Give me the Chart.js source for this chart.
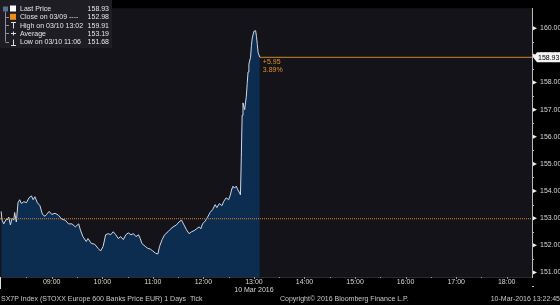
<!DOCTYPE html>
<html>
<head>
<meta charset="utf-8">
<script src="https://cdn.jsdelivr.net/npm/chart.js@4.4.1/dist/chart.umd.min.js"></script>
<style>
  html, body { margin: 0; padding: 0; background: #000; }
  #wrap { width: 560px; height: 305px; position: relative; }
</style>
</head>
<body>
<div id="wrap"><canvas id="chart" width="560" height="305"></canvas></div>
<script>
// SX7P intraday ticks, 10 Mar 2016
const times = [
  '08:00','08:01','08:03','08:06','08:07','08:09','08:11','08:13','08:15','08:16','08:18','08:20','08:22','08:24','08:27',
  '08:30','08:33','08:36','08:38','08:40','08:43','08:46','08:49','08:52','08:54','08:57','09:00','09:04','09:08','09:12',
  '09:16','09:20','09:24','09:28','09:32','09:34','09:37','09:41','09:43','09:47','09:51','09:55','09:58','10:01','10:04',
  '10:07','10:10','10:13','10:16','10:19','10:22','10:25','10:28','10:31','10:34','10:37','10:40','10:43','10:45','10:47',
  '10:51','10:54','10:57','11:00','11:03','11:06','11:08','11:11','11:14','11:18','11:20','11:24','11:28','11:31','11:34',
  '11:37','11:40','11:43','11:46','11:49','11:52','11:55','11:57','11:59','12:02','12:05','12:08','12:11','12:14','12:16',
  '12:19','12:22','12:24','12:27','12:30','12:32','12:34','12:35','12:37','12:39','12:41','12:43','12:44','12:45','12:46',
  '12:47','12:49','12:51','12:52','12:53','12:54','12:56','12:57','12:58','13:00','13:02','13:03','13:04','13:05','13:07'
];
const prices = [
  153.25,152.93,152.79,152.96,152.93,153.04,152.75,153.00,152.93,153.21,152.86,153.57,153.68,153.54,153.61,
  153.57,153.75,153.82,153.68,153.79,153.57,153.46,153.14,153.07,153.14,153.25,153.14,153.18,153.11,152.96,
  152.93,152.79,152.79,152.68,152.79,152.57,152.32,152.14,152.25,152.07,152.04,151.89,151.79,151.96,152.39,
  152.43,152.39,152.50,152.39,152.25,152.32,152.21,152.39,152.46,152.39,152.43,152.32,152.39,152.25,152.07,
  151.96,151.89,151.86,151.79,151.71,151.68,151.96,152.21,152.39,152.50,152.57,152.68,152.75,152.86,152.93,
  152.75,152.57,152.43,152.50,152.54,152.61,152.68,152.61,152.79,152.89,153.04,153.21,153.32,153.50,153.39,
  153.54,153.46,153.61,153.75,153.68,153.86,154.11,154.18,154.11,154.18,154.04,153.93,153.86,155.25,156.79,
  157.25,157.00,157.50,157.96,158.39,158.68,158.93,159.36,159.64,159.89,159.91,159.70,159.40,159.10,158.93
];
const closePrev = 152.98;
const lastPrice = 158.93;
const xTickHours = [9, 10, 11, 12, 13, 14, 15, 16, 17, 18];
const yTicks = [151, 152, 153, 154, 155, 156, 157, 158, 159, 160];
const legendLabels = ['Last Price', 'Close on 03/09 ----', 'High on 03/10 13:02', 'Average', 'Low on 03/10 11:06'];
const legendValues = ['158.93', '152.98', '159.91', '153.19', '151.68'];
const changeLabels = ['+5.95', '3.89%'];
const dateLabel = '10 Mar 2016';
const footer = ['SX7P Index (STOXX Europe 600 Banks Price EUR) 1 Days  Tick',
                'Copyright\u00A9 2016 Bloomberg Finance L.P.',
                '10-Mar-2016 13:22:45'];

const X_MIN = 7.977, X_MAX = 18.5;
const FONT = '"Liberation Sans", Arial, sans-serif';
const ORANGE = '#e0902a';

function toHours(t) {
  const [h, m] = t.split(':').map(Number);
  return h + m / 60;
}
const points = times.map((t, i) => ({ x: toHours(t), y: prices[i] }));
const lastX = points[points.length - 1].x;

Chart.defaults.font.family = FONT;
Chart.defaults.font.size = 7;
Chart.defaults.color = '#d8d8d8';

const background = {
  id: 'background',
  beforeDraw(chart) {
    const { ctx, chartArea: a } = chart;
    ctx.save();
    ctx.fillStyle = '#000';
    ctx.fillRect(0, 0, chart.width, chart.height);
    ctx.fillStyle = '#141319';
    ctx.fillRect(a.left, a.top, a.right - a.left, a.bottom - a.top);
    ctx.restore();
  }
};

const decorations = {
  id: 'decorations',
  afterDraw(chart) {
    const { ctx, chartArea: a } = chart;
    const xs = chart.scales.x, ys = chart.scales.y;
    ctx.save();

    // minor ticks on the right axis + arrow heads on majors
    ctx.strokeStyle = '#bbb';
    ctx.lineWidth = 1;
    yTicks.forEach(v => {
      const y = Math.round(ys.getPixelForValue(v - 0.5)) + 0.5;
      ctx.beginPath(); ctx.moveTo(a.right, y); ctx.lineTo(a.right + 2, y); ctx.stroke();
    });
    ctx.fillStyle = '#eee';
    yTicks.forEach(v => {
      const y = ys.getPixelForValue(v);
      ctx.beginPath(); ctx.moveTo(a.right + 1, y - 2); ctx.lineTo(a.right + 5, y); ctx.lineTo(a.right + 1, y + 2); ctx.fill();
    });
    // x ticks
    ctx.strokeStyle = '#999';
    xTickHours.forEach(h => {
      [h, h - 0.5].forEach((v, k) => {
        const x = Math.round(xs.getPixelForValue(v)) + 0.5;
        ctx.beginPath(); ctx.moveTo(x, a.bottom); ctx.lineTo(x, a.bottom + (k ? 1 : 2)); ctx.stroke();
      });
    });
    ctx.strokeStyle = '#ddd';
    ctx.beginPath(); ctx.moveTo(0.5, a.bottom); ctx.lineTo(0.5, a.bottom + 12); ctx.stroke();

    // last price marker on the axis
    const yl = ys.getPixelForValue(lastPrice);
    ctx.fillStyle = '#f4f4f4';
    ctx.beginPath();
    ctx.moveTo(a.right + 1, yl);
    ctx.lineTo(a.right + 5, yl - 5);
    ctx.lineTo(560, yl - 5);
    ctx.lineTo(560, yl + 5);
    ctx.lineTo(a.right + 5, yl + 5);
    ctx.closePath();
    ctx.fill();
    ctx.fillStyle = '#000';
    ctx.font = '7px ' + FONT;
    ctx.textBaseline = 'middle';
    ctx.textAlign = 'left';
    ctx.fillText(lastPrice.toFixed(2), a.right + 6, yl + 0.5);

    // change labels
    ctx.fillStyle = ORANGE;
    const xc = xs.getPixelForValue(lastX) + 3;
    ctx.fillText(changeLabels[0], xc, yl + 5);
    ctx.fillText(changeLabels[1], xc, yl + 13);

    // date under the 13:00 tick
    ctx.fillStyle = '#d8d8d8';
    ctx.textAlign = 'center';
    ctx.fillText(dateLabel, xs.getPixelForValue(13), 290);

    // footer
    ctx.fillStyle = '#c8c8c8';
    ctx.textAlign = 'left';
    ctx.fillText(footer[0], 1, 299);
    ctx.fillText(footer[1], 280, 299);
    ctx.textAlign = 'right';
    ctx.fillText(footer[2], 560, 299);

    // legend box
    ctx.fillStyle = '#1d1d23';
    ctx.fillRect(0, 0, 112, 48);
    const rowY = legendLabels.map((_, i) => 8.5 + i * 8.3);
    ctx.strokeStyle = '#8a8f99';
    ctx.beginPath();
    ctx.moveTo(5.5, rowY[0] + 3); ctx.lineTo(5.5, rowY[4]);
    rowY.slice(1).forEach(y => { ctx.moveTo(5.5, Math.round(y) + 0.5); ctx.lineTo(9, Math.round(y) + 0.5); });
    ctx.stroke();
    ctx.fillStyle = '#5b6f8f';
    ctx.fillRect(3, rowY[0] - 2, 5, 5);
    ctx.fillStyle = '#fff';
    ctx.fillRect(10, rowY[0] - 3, 6, 6);
    ctx.fillStyle = '#f08c1a';
    ctx.fillRect(10, rowY[1] - 3, 6, 6);
    ctx.strokeStyle = '#ddd';
    const ih = Math.round(rowY[2]) + 0.5, ia = Math.round(rowY[3]) + 0.5, il = Math.round(rowY[4]) + 0.5;
    ctx.beginPath();
    ctx.moveTo(11, ih - 3); ctx.lineTo(16, ih - 3); ctx.moveTo(13.5, ih - 3); ctx.lineTo(13.5, ih + 3);
    ctx.moveTo(11, ia); ctx.lineTo(16, ia); ctx.moveTo(13.5, ia - 2); ctx.lineTo(13.5, ia + 2);
    ctx.moveTo(11, il + 3); ctx.lineTo(16, il + 3); ctx.moveTo(13.5, il - 3); ctx.lineTo(13.5, il + 3);
    ctx.stroke();
    ctx.font = '7px ' + FONT;
    ctx.fillStyle = '#e6e6e6';
    legendLabels.forEach((t, i) => {
      ctx.textAlign = 'left';
      ctx.fillText(t, 20, rowY[i] + 0.5);
      ctx.textAlign = 'right';
      ctx.fillText(legendValues[i], 109, rowY[i] + 0.5);
    });
    ctx.restore();
  }
};

new Chart(document.getElementById('chart'), {
  type: 'line',
  data: {
    datasets: [
      {
        data: points,
        borderColor: '#cfd8e4',
        borderWidth: 1,
        backgroundColor: '#0c2c50',
        fill: 'start',
        pointRadius: 0,
        tension: 0,
        order: 3
      },
      {
        data: [{ x: X_MIN, y: closePrev }, { x: X_MAX, y: closePrev }],
        borderColor: '#d9882a',
        borderWidth: 1,
        borderDash: [1, 1],
        pointRadius: 0,
        fill: false,
        order: 1
      },
      {
        data: [{ x: lastX, y: lastPrice }, { x: X_MAX, y: lastPrice }],
        borderColor: '#c98a2a',
        borderWidth: 1,
        pointRadius: 0,
        fill: false,
        order: 1
      }
    ]
  },
  options: {
    responsive: false,
    animation: false,
    devicePixelRatio: 1,
    layout: { padding: 0 },
    plugins: { legend: { display: false }, tooltip: { enabled: false } },
    scales: {
      x: {
        type: 'linear',
        min: X_MIN,
        max: X_MAX,
        afterBuildTicks: s => { s.ticks = xTickHours.map(v => ({ value: v })); },
        afterFit: s => { s.height = 28; },
        ticks: {
          autoSkip: false,
          maxRotation: 0,
          padding: 1,
          color: '#d8d8d8',
          callback: v => String(v).padStart(2, '0') + ':00'
        },
        grid: { drawOnChartArea: false, drawTicks: false },
        border: { display: true, color: '#2a2a30' }
      },
      y: {
        position: 'right',
        min: 150.832,
        max: 160.74,
        afterBuildTicks: s => { s.ticks = yTicks.map(v => ({ value: v })); },
        afterFit: s => { s.width = 28; },
        ticks: {
          padding: 4,
          color: '#d8d8d8',
          callback: v => Number(v).toFixed(2)
        },
        grid: { drawOnChartArea: false, drawTicks: true, tickLength: 4, tickColor: 'rgba(0,0,0,0)' },
        border: { display: true, color: '#bbb' }
      }
    }
  },
  plugins: [background, decorations]
});
</script>
</body>
</html>
